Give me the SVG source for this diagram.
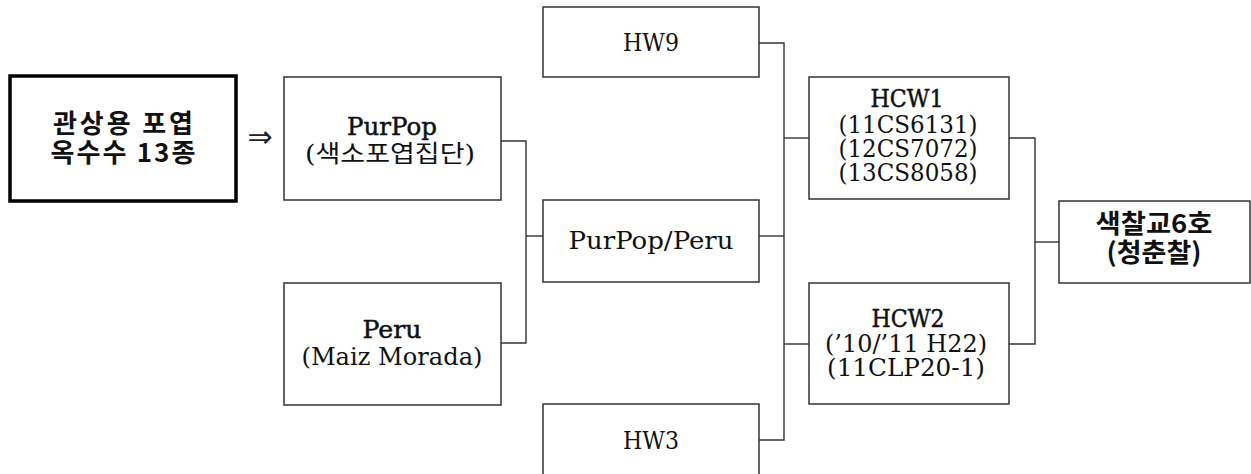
<svg xmlns="http://www.w3.org/2000/svg" width="1251" height="474" viewBox="0 0 1251 474">
  <style>
    .box { fill: #ffffff; stroke: #333333; stroke-width: 1.5; }
    .box-main { fill: #ffffff; stroke: #000000; stroke-width: 3.5; }
    .wire { fill: none; stroke: #333333; stroke-width: 1.4; }
    .lat { font-family: "DejaVu Serif", "Noto Sans CJK KR", serif; font-size: 24px; fill: #111111; text-anchor: middle; }
    .lat-b { stroke: #111111; stroke-width: 0.5; }
    .kor { font-family: "Noto Sans CJK KR", "Liberation Sans", sans-serif; font-size: 26px; fill: #111111; text-anchor: middle; font-weight: bold; }
    .sym { font-family: "DejaVu Sans", sans-serif; font-size: 30px; fill: #222222; text-anchor: middle; }
  </style>

  <!-- connectors -->
  <g id="connectors">
    <!-- parents into PurPop/Peru -->
    <polyline class="wire" points="501,141 526,141 526,343 501,343"/>
    <line class="wire" x1="526" y1="236" x2="543" y2="236"/>
    <!-- PurPop/Peru, HW9, HW3 into HCW1 / HCW2 -->
    <polyline class="wire" points="759,43 784,43 784,440 759,440"/>
    <line class="wire" x1="759" y1="236" x2="784" y2="236"/>
    <line class="wire" x1="784" y1="138" x2="809" y2="138"/>
    <line class="wire" x1="784" y1="344" x2="809" y2="344"/>
    <!-- HCW1 / HCW2 into final cultivar -->
    <polyline class="wire" points="1009,138 1035,138 1035,344 1009,344"/>
    <line class="wire" x1="1035" y1="242" x2="1059" y2="242"/>
  </g>

  <g id="source">
    <rect class="box-main" x="10" y="76" width="226" height="125"/>
    <text class="kor" x="123" y="133" textLength="140" lengthAdjust="spacing">관상용 포엽</text>
    <text class="kor" x="123" y="162" textLength="145" lengthAdjust="spacing">옥수수 13종</text>
  </g>

  <g id="arrow">
    <text class="sym" x="260" y="147">⇒</text>
  </g>

  <g id="purpop">
    <rect class="box" x="284" y="77" width="217" height="123"/>
    <text class="lat lat-b" x="392" y="135" textLength="90" lengthAdjust="spacingAndGlyphs">PurPop</text>
    <text class="lat" x="390" y="162" font-size="25" textLength="170" lengthAdjust="spacingAndGlyphs">(색소포엽집단)</text>
  </g>

  <g id="peru">
    <rect class="box" x="284" y="283" width="217" height="122"/>
    <text class="lat lat-b" x="392" y="338" textLength="59" lengthAdjust="spacingAndGlyphs">Peru</text>
    <text class="lat" x="392" y="365" textLength="181" lengthAdjust="spacingAndGlyphs">(Maiz Morada)</text>
  </g>

  <g id="hw9">
    <rect class="box" x="543" y="7" width="216" height="70"/>
    <text class="lat" x="651" y="51" textLength="56" lengthAdjust="spacingAndGlyphs">HW9</text>
  </g>

  <g id="purpop-peru">
    <rect class="box" x="543" y="200" width="216" height="82"/>
    <text class="lat" x="651" y="249" textLength="165" lengthAdjust="spacingAndGlyphs">PurPop/Peru</text>
  </g>

  <g id="hw3">
    <rect class="box" x="543" y="404" width="216" height="76"/>
    <text class="lat" x="651" y="449" textLength="56" lengthAdjust="spacingAndGlyphs">HW3</text>
  </g>

  <g id="hcw1">
    <rect class="box" x="809" y="77" width="200" height="122"/>
    <text class="lat lat-b" x="907" y="107" textLength="73" lengthAdjust="spacingAndGlyphs">HCW1</text>
    <text class="lat" x="908" y="133" textLength="139" lengthAdjust="spacingAndGlyphs">(11CS6131)</text>
    <text class="lat" x="908" y="157" textLength="139" lengthAdjust="spacingAndGlyphs">(12CS7072)</text>
    <text class="lat" x="908" y="181" textLength="139" lengthAdjust="spacingAndGlyphs">(13CS8058)</text>
  </g>

  <g id="hcw2">
    <rect class="box" x="809" y="283" width="200" height="121"/>
    <text class="lat lat-b" x="908" y="327" textLength="73" lengthAdjust="spacingAndGlyphs">HCW2</text>
    <text class="lat" x="906" y="352" textLength="162" lengthAdjust="spacingAndGlyphs">(’10/’11 H22)</text>
    <text class="lat" x="906" y="376" textLength="158" lengthAdjust="spacingAndGlyphs">(11CLP20-1)</text>
  </g>

  <g id="cultivar">
    <rect class="box" x="1059" y="201" width="191" height="82"/>
    <text class="kor" x="1154" y="233" textLength="117" lengthAdjust="spacingAndGlyphs">색찰교6호</text>
    <text class="kor" x="1154" y="262" textLength="95" lengthAdjust="spacingAndGlyphs">(청춘찰)</text>
  </g>
</svg>
